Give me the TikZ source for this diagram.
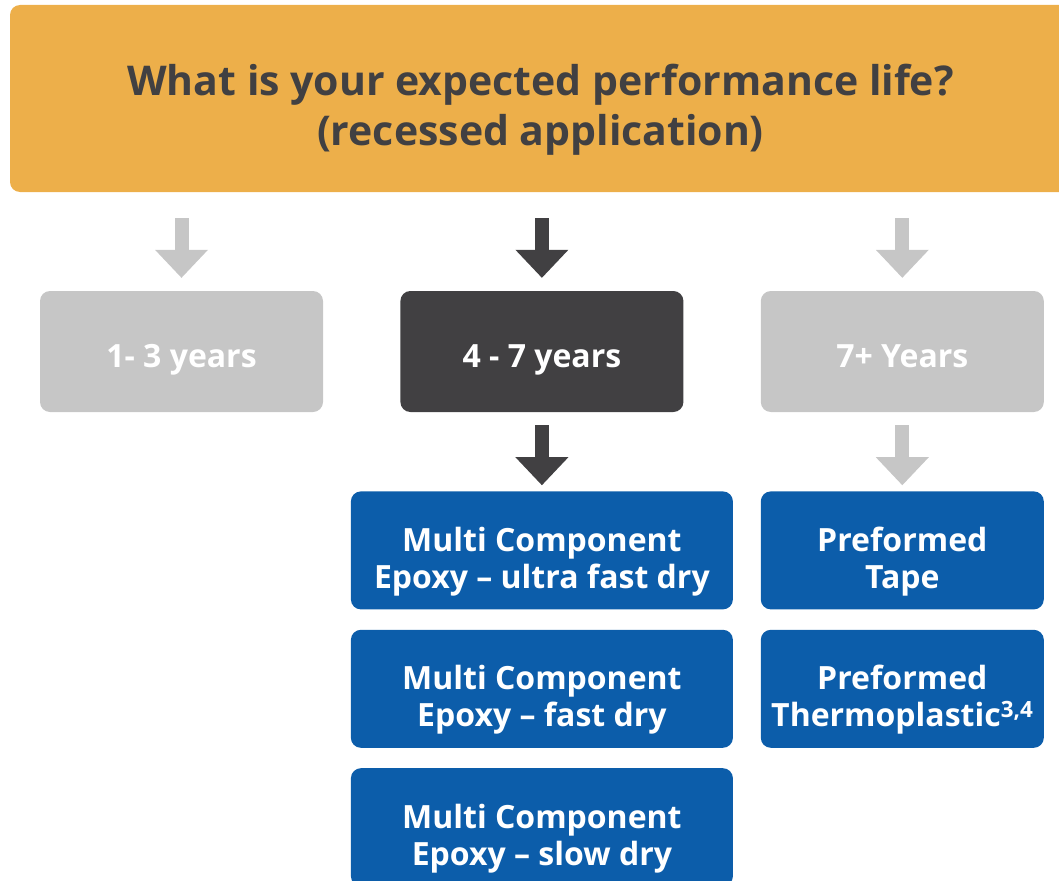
\documentclass[tikz,border=0pt]{standalone}
\usepackage{fontspec}
\setmainfont{Open Sans}
\usetikzlibrary{positioning,arrows.meta}
\definecolor{gold}{HTML}{EDAF4A}
\definecolor{charcoal}{HTML}{414042}
\definecolor{silver}{HTML}{C6C6C6}
\definecolor{navy}{HTML}{0C5DAA}

\begin{document}
\begin{tikzpicture}[x = 1pt, y = 1pt, node distance   = 79pt and 77pt]
        \tikzset{BoxStyle/.style =   {rounded corners = 10pt,
            inner sep = 0pt,
            align     = center,
            text      = white,
            font      = \bfseries\fontsize{32}{37}\selectfont}}
        \tikzset{YearStyle/.style =   {BoxStyle,
            minimum width  = 283pt,
            minimum height = 121pt,
            text height    = 31pt,
            text depth     = 0pt}}
        \tikzset{ProductStyle/.style =   {BoxStyle,
            fill           = navy,
            minimum height = 118pt,
            text height    = 76pt,
            text depth     = 0pt}}
        \useasboundingbox (0,0) rectangle (1059,-880);
        \node[fill = gold, rounded corners = 10pt, inner sep = 0pt,
              minimum width = 1061pt, minimum height = 187pt,
              align = center, text = charcoal,
              text height = 93pt, text depth = 0pt,
              font = \bfseries\fontsize{41}{50}\selectfont]
              (Life) at (540.5,-98.5)
              {What is your expected performance life?\\(recessed application)};
        \node[YearStyle, fill = silver] (Y13) at (181.5,-351.5) {1- 3 years};
        \node[YearStyle, fill = charcoal, right = of Y13] (Y47) {4 - 7 years};
        \node[YearStyle, fill = silver, right = of Y47] (Y7) {7+ Years};
        \node[ProductStyle, minimum width = 382pt, below = of Y47] (EpoxyUF)
              {Multi Component\\Epoxy – ultra fast dry};
        \node[ProductStyle, minimum width = 382pt, below = 20pt of EpoxyUF] (EpoxyF)
              {Multi Component\\Epoxy – fast dry};
        \node[ProductStyle, minimum width = 382pt, below = 20pt of EpoxyF] (EpoxyS)
              {Multi Component\\Epoxy – slow dry};
        \node[ProductStyle, minimum width = 283pt, below = of Y7] (Tape)
              {Preformed\\Tape};
        \node[ProductStyle, minimum width = 283pt, below = 20pt of Tape] (Thermo)
              {Preformed\\Thermoplastic\textsuperscript{3,4}};
        \tikzset{EdgeStyle/.style = {line width = 14pt,
            -{Triangle[width = 53pt, length = 28pt, line width = 0pt]}}}
        \tikzset{TopEdge/.style = {EdgeStyle, shorten <= 26pt, shorten >= 13pt}}
        \tikzset{LowEdge/.style = {EdgeStyle, shorten <= 13pt, shorten >= 6pt}}
        \draw[TopEdge, silver]   (Life.south -| Y13.north) -- (Y13.north);
        \draw[TopEdge, charcoal] (Life.south -| Y47.north) -- (Y47.north);
        \draw[TopEdge, silver]   (Life.south -| Y7.north)  -- (Y7.north);
        \draw[LowEdge, charcoal] (Y47.south) -- (EpoxyUF.north);
        \draw[LowEdge, silver]   (Y7.south)  -- (Tape.north);
      \end{tikzpicture}
\end{document}
